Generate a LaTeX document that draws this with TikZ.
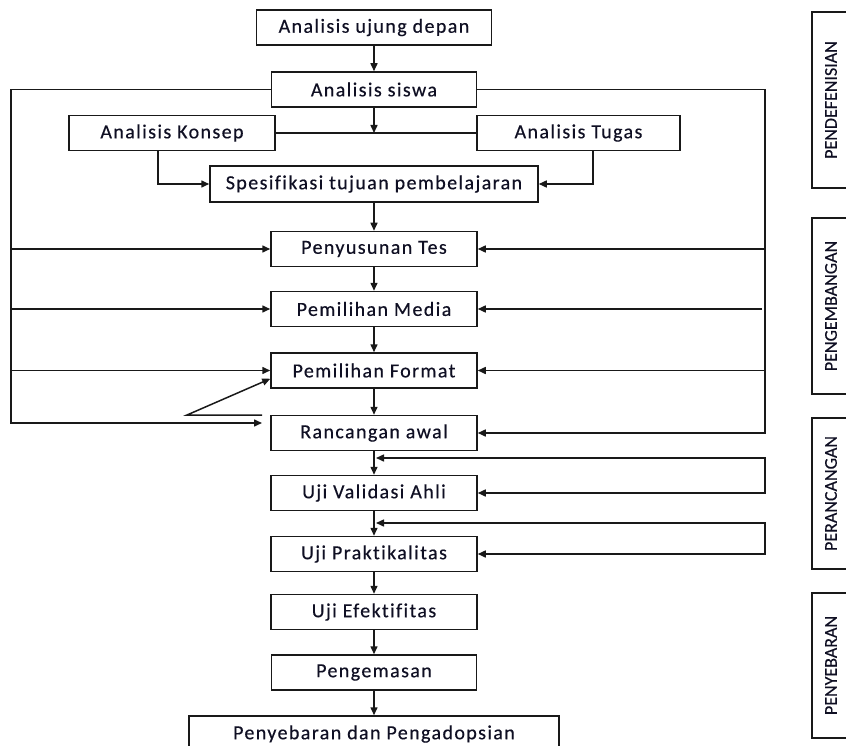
\documentclass[tikz,border=0pt]{standalone}
\usepackage{fontspec}
\setmainfont{Carlito}
\newfontfamily\boxfont{Carlito}[LetterSpace=7, Ligatures={NoCommon,NoContextual}, FakeBold=0.4]
\newfontfamily\lblfont{Carlito}[Ligatures={NoCommon,NoContextual}, FakeBold=0.3]
\usetikzlibrary{arrows.meta}
\definecolor{txt}{RGB}{15,15,35}
\definecolor{ln}{RGB}{25,25,25}
\begin{document}
\begin{tikzpicture}[x=1pt,y=-1pt,
  box/.style={draw=ln, line width=1.5pt, minimum height=35pt, inner sep=0pt,
    font=\boxfont\fontsize{20}{22}\selectfont, text=txt},
  lbl/.style={draw=ln, line width=1.5pt, inner sep=0pt, minimum height=38pt,
    rotate=90, font=\lblfont\fontsize{18}{20}\selectfont, text=txt},
  conn/.style={line width=1.5pt, draw=ln},
  arr/.style={conn, -{Triangle[length=8pt,width=7pt]}},
  darr/.style={conn, {Triangle[length=8pt,width=7pt]}-{Triangle[length=8pt,width=7pt]}}
]
\path[use as bounding box] (0,0) rectangle (846,746);
\clip (0,0) rectangle (846,746);

% main column
\node[box, minimum width=235] (ujung) at (374,27.5) {Analisis ujung depan};
\node[box, minimum width=205] (siswa) at (374,89.5) {Analisis siswa};
\node[box, minimum width=206] (konsep) at (172,133) {Analisis Konsep};
\node[box, minimum width=203] (tugas) at (578.5,133) {Analisis Tugas};
\node[box, minimum width=328, minimum height=36pt] (spes) at (374,184) {Spesifikasi tujuan pembelajaran};
\node[box, minimum width=206] (tes) at (374,249) {Penyusunan Tes};
\node[box, minimum width=206] (media) at (374,309) {Pemilihan Media};
\node[box, minimum width=206] (format) at (374,370.5) {Pemilihan Format};
\node[box, minimum width=206] (ranc) at (374,433) {Rancangan awal};
\node[box, minimum width=206] (valid) at (374,493) {Uji Validasi Ahli};
\node[box, minimum width=206] (prakt) at (374,554) {Uji Praktikalitas};
\node[box, minimum width=206] (efek) at (374,612) {Uji Efektifitas};
\node[box, minimum width=205] (kemas) at (374,672.5) {Pengemasan};
\node[box, minimum width=370, minimum height=36pt] (sebar) at (374,734) {Penyebaran dan Pengadopsian};

% side labels
\node[lbl, minimum width=176pt] (l1) at (831,100) {PENDEFENISIAN};
\node[lbl, minimum width=176pt] (l2) at (831,306) {PENGEMBANGAN};
\node[lbl, minimum width=151pt] (l3) at (831,493.5) {PERANCANGAN};
\node[lbl, minimum width=145pt] (l4) at (831,665.5) {PENYEBARAN};

% helper coordinates
\coordinate (kt) at (374,133);
\coordinate (lbus) at (11,423);
\coordinate (ranctip) at (262,423);
\coordinate (rbus) at (765,433);
\coordinate (d1) at (262,415);
\coordinate (d2) at (187,415);
\coordinate (v1) at (376,458);
\coordinate (v2) at (376,523);

% vertical flow
\draw[arr] (ujung) -- (siswa);
\draw[conn] (konsep) -- (tugas);
\draw[arr] (siswa) -- (kt);
\draw[arr] ([xshift=-14pt]konsep.south) |- (spes);
\draw[arr] ([xshift=14.5pt]tugas.south) |- (spes);
\draw[arr] (spes) -- (tes);
\draw[arr] (tes) -- (media);
\draw[arr] (media) -- (format);
\draw[arr] (format) -- (ranc);
\draw[arr] (ranc) -- (valid);
\draw[arr] (valid) -- (prakt);
\draw[arr] (prakt) -- (efek);
\draw[arr] (efek) -- (kemas);
\draw[arr] (kemas) -- (sebar);

% left bus
\draw[arr] (siswa.west) -| (lbus) -- (ranctip);
\draw[arr] (tes.west -| lbus) -- (tes.west);
\draw[arr] (media.west -| lbus) -- (media.west);
\draw[arr] (format.west -| lbus) -- (format.west);

% right bus
\draw[arr] (siswa.east) -| (rbus) -- (ranc.east);
\draw[arr] (tes.east -| rbus) -- (tes.east);
\draw[arr] ([xshift=-3pt]media.east -| rbus) -- (media.east);
\draw[arr] (format.east -| rbus) -- (format.east);

% odd diagonal
\draw[arr] (d1) -- (d2) -- ([yshift=10pt]format.south west);

% lower loops
\draw[darr] (v1) -- (v1 -| rbus) |- (valid.east);
\draw[darr] (v2) -- (v2 -| rbus) |- (prakt.east);
\end{tikzpicture}
\end{document}
